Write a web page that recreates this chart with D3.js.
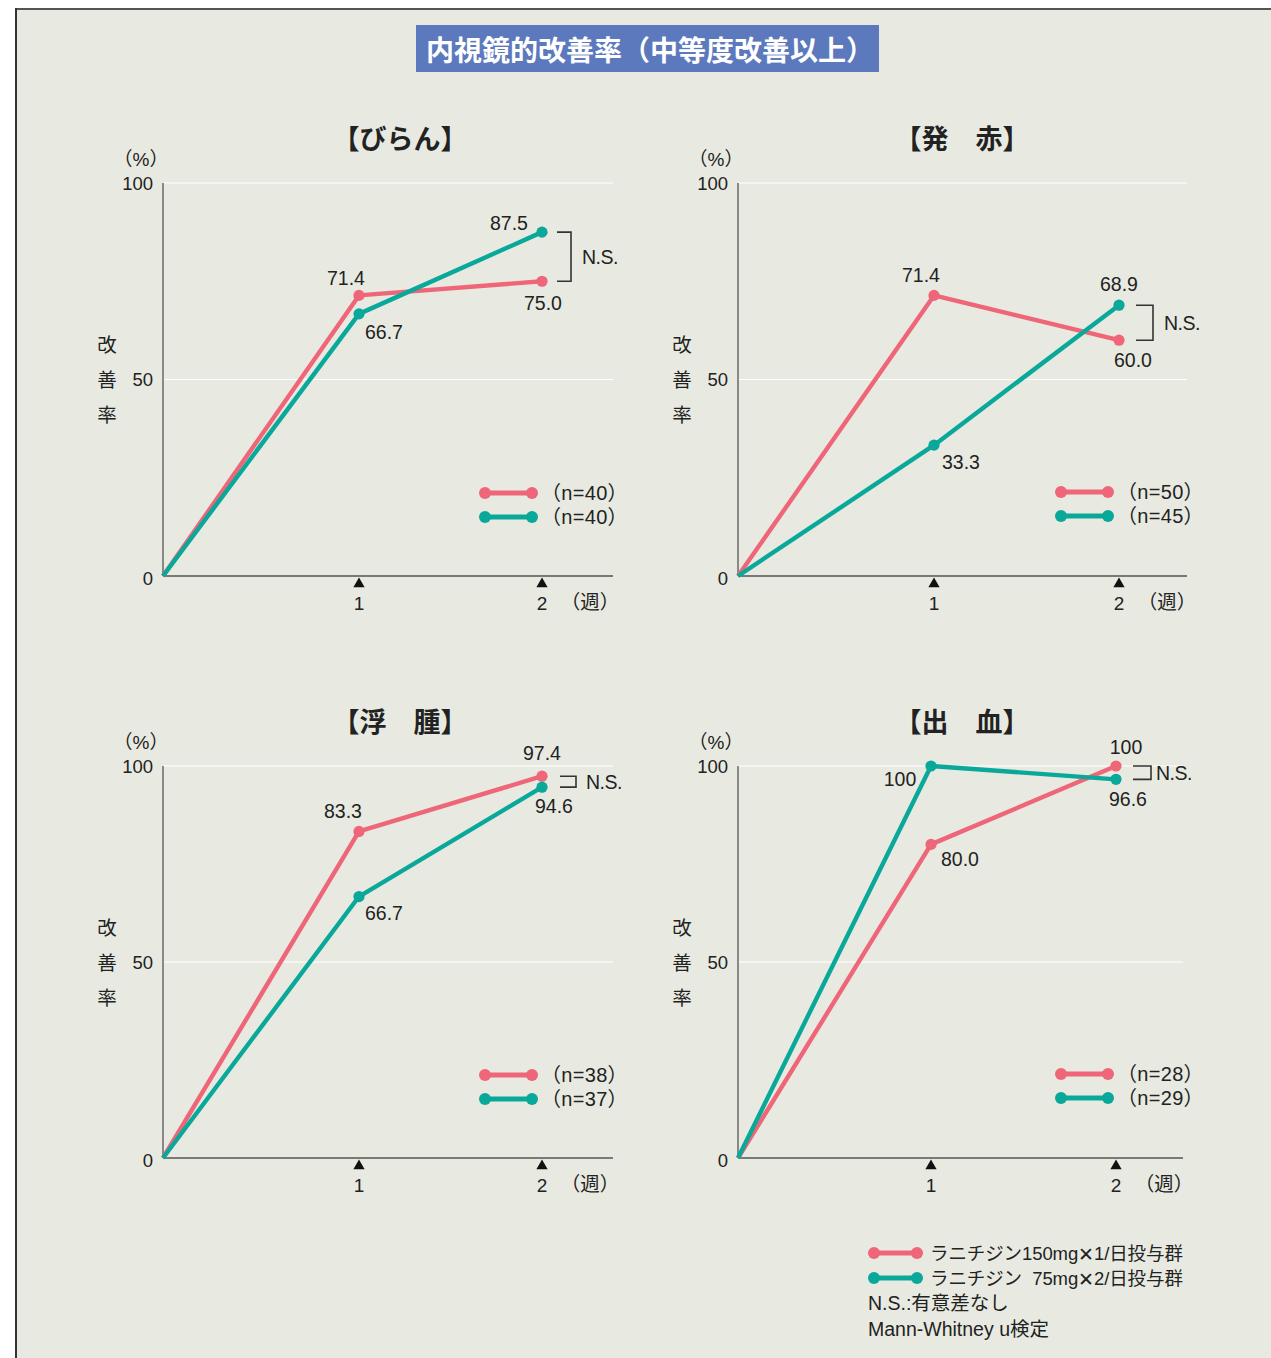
<!DOCTYPE html>
<html lang="ja">
<head>
<meta charset="utf-8">
<script src="https://cdn.jsdelivr.net/npm/d3@7"></script>
<style>
  html, body { margin: 0; padding: 0; background: #fff; }
  svg { display: block; }
  text { font-family: "Liberation Sans", "Noto Sans CJK JP", sans-serif; fill: #222; }
</style>
</head>
<body>
<svg id="chart" width="1271" height="1358"></svg>
<script>
// ---- data ----
const mainTitle = "内視鏡的改善率（中等度改善以上）";
const panelTitles = ["【びらん】", "【発\u3000赤】", "【浮\u3000腫】", "【出\u3000血】"];
const weeks = [0, 1, 2];
const weekTickLabels = ["1", "2"];
const yTicks = [0, 50, 100];
// ラニチジン150mg×1/日
const once150 = [
  [0, 71.4, 75.0],
  [0, 71.4, 60.0],
  [0, 83.3, 97.4],
  [0, 80.0, 100]
];
// ラニチジン75mg×2/日
const twice75 = [
  [0, 66.7, 87.5],
  [0, 33.3, 68.9],
  [0, 66.7, 94.6],
  [0, 100, 96.6]
];
const nOnce150 = [40, 50, 38, 28];
const nTwice75 = [40, 45, 37, 29];
// series names split around the "×" sign so it can be set in a wider glyph
const seriesNames = [["ラニチジン150mg", "1/日投与群"], ["ラニチジン\u200775mg", "2/日投与群"]];
const footNotes = ["N.S.:有意差なし", "Mann-Whitney u検定"];

// ---- layout ----
const RED = "#ee6678";
const TEAL = "#0aa89a";
const panels = [
  { x0: 163, y0: 576, h: 393, w: 450, wk: [0, 196, 379],
    labels: [[0, 1, -13, -17, "middle"], [1, 1, 25, 18, "middle"], [1, 2, -33, -9, "middle"], [0, 2, 1, 22, "middle"]],
    br: [15, 29, 40] },
  { x0: 738, y0: 576, h: 393, w: 449, wk: [0, 196, 381],
    labels: [[0, 1, -13, -20, "middle"], [1, 1, 27, 17, "middle"], [1, 2, 0, -21, "middle"], [0, 2, 14, 20, "middle"]],
    br: [17, 34, 45] },
  { x0: 163, y0: 1158, h: 392, w: 450, wk: [0, 196, 379],
    labels: [[0, 1, -16, -20, "middle"], [1, 1, 25, 16, "middle"], [0, 2, 0, -23, "middle"], [1, 2, 12, 19, "middle"]],
    br: [18, 34, 44] },
  { x0: 738, y0: 1158, h: 392, w: 445, wk: [0, 193, 378],
    labels: [[1, 1, -31, 13, "middle"], [0, 1, 29, 15, "middle"], [0, 2, 10, -19, "middle"], [1, 2, 12, 20, "middle"]],
    br: [17, 35, 40] }
];

const svg = d3.select("#chart");

// backdrop
svg.append("rect").attr("x", 15).attr("y", 8).attr("width", 1256).attr("height", 1350).attr("fill", "#e8eae1");
svg.append("line").attr("x1", 15).attr("x2", 1271).attr("y1", 9).attr("y2", 9).attr("stroke", "#555").attr("stroke-width", 2);
svg.append("line").attr("x1", 16).attr("x2", 16).attr("y1", 8).attr("y2", 1358).attr("stroke", "#333").attr("stroke-width", 2);

// title banner
svg.append("rect").attr("x", 416).attr("y", 25).attr("width", 463).attr("height", 47).attr("fill", "#5c79bd");
svg.append("text").attr("x", 650).attr("y", 49).attr("text-anchor", "middle").attr("dominant-baseline", "central")
  .attr("font-size", 28).attr("font-weight", 700).style("fill", "#fff")
  .style("font-family", "'Noto Sans CJK JP', sans-serif").text(mainTitle);

const seriesSets = [once150, twice75];
const seriesColors = [RED, TEAL];
const nSets = [nOnce150, nTwice75];

panels.forEach((p, i) => {
  const g = svg.append("g");
  const y = d3.scaleLinear().domain([0, 100]).range([p.y0, p.y0 - p.h]);
  const x = d3.scaleLinear().domain(weeks).range(p.wk.map(d => p.x0 + d));
  const xEnd = p.x0 + p.w;

  // gridlines
  g.selectAll(".grid").data(yTicks.filter(t => t > 0)).join("line")
    .attr("x1", p.x0).attr("x2", xEnd).attr("y1", d => y(d)).attr("y2", d => y(d))
    .attr("stroke", "#fff").attr("stroke-width", 1.2);

  // axes lines
  g.append("line").attr("x1", p.x0).attr("x2", p.x0).attr("y1", y(0)).attr("y2", y(100))
    .attr("stroke", "#555").attr("stroke-width", 1.3);
  g.append("line").attr("x1", p.x0).attr("x2", xEnd).attr("y1", y(0)).attr("y2", y(0))
    .attr("stroke", "#555").attr("stroke-width", 1.3);

  // y tick labels
  g.selectAll(".yt").data(yTicks).join("text")
    .attr("x", p.x0 - 10).attr("y", d => y(d) + (d === 0 ? 2 : 0))
    .attr("text-anchor", "end").attr("dominant-baseline", "central")
    .attr("font-size", 18.5).text(d => d);

  // (%) and vertical axis title
  g.append("text").attr("x", p.x0 - 22).attr("y", y(100) - 24).attr("text-anchor", "middle")
    .attr("dominant-baseline", "central").attr("font-size", 19).text("（%）");
  ["改", "善", "率"].forEach((c, k) => {
    g.append("text").attr("x", p.x0 - 56).attr("y", y(50) - 36 + k * 35)
      .attr("text-anchor", "middle").attr("dominant-baseline", "central")
      .attr("font-size", 19.5).style("font-family", "'Noto Sans CJK JP', sans-serif").text(c);
  });

  // panel title
  g.append("text").attr("x", p.x0 + (i % 2 === 0 ? 237 : 224)).attr("y", y(100) - 46)
    .attr("text-anchor", "middle").attr("dominant-baseline", "central")
    .attr("font-size", 27).attr("font-weight", 700)
    .style("font-family", "'Noto Sans CJK JP', sans-serif").text(panelTitles[i]);

  // x ticks: triangle markers + labels
  const tri = d3.symbol().type(d3.symbolTriangle).size(55);
  g.selectAll(".tri").data([1, 2]).join("path")
    .attr("d", tri).attr("transform", d => `translate(${x(d)},${y(0) + 8})`).attr("fill", "#111");
  g.selectAll(".xt").data([1, 2]).join("text")
    .attr("x", d => x(d)).attr("y", y(0) + 27).attr("text-anchor", "middle")
    .attr("dominant-baseline", "central").attr("font-size", 19).text((d, k) => weekTickLabels[k]);
  g.append("text").attr("x", x(2) + 48).attr("y", y(0) + 26).attr("text-anchor", "middle")
    .attr("dominant-baseline", "central").attr("font-size", 19.5).text("（週）");

  // series lines + points
  const line = d3.line().x((d, k) => x(weeks[k])).y(d => y(d));
  seriesSets.forEach((set, s) => {
    g.append("path").attr("d", line(set[i])).attr("fill", "none")
      .attr("stroke", seriesColors[s]).attr("stroke-width", 4.4).attr("stroke-linejoin", "round");
    g.selectAll(".pt" + s).data(set[i].slice(1)).join("circle")
      .attr("cx", (d, k) => x(weeks[k + 1])).attr("cy", d => y(d)).attr("r", 5.6)
      .attr("fill", seriesColors[s]);
  });

  // value labels
  p.labels.forEach(([s, k, dx, dy, anchor]) => {
    const v = seriesSets[s][i][k];
    g.append("text").attr("x", x(weeks[k]) + dx).attr("y", y(v) + dy)
      .attr("text-anchor", anchor).attr("dominant-baseline", "central")
      .attr("font-size", 19.5).text(v === 100 ? "100" : v.toFixed(1));
  });

  // N.S. bracket between week-2 values
  const ya = y(once150[i][2]), yb = y(twice75[i][2]);
  const bx1 = x(2) + p.br[0], bx2 = x(2) + p.br[1];
  g.append("path").attr("d", `M${bx1},${ya}H${bx2}V${yb}H${bx1}`)
    .attr("fill", "none").attr("stroke", "#333").attr("stroke-width", 1.6);
  g.append("text").attr("x", x(2) + p.br[2]).attr("y", (ya + yb) / 2)
    .attr("dominant-baseline", "central").attr("font-size", 19.5).attr("letter-spacing", -0.5).text("N.S.");

  // sample-size legend
  const lx = p.x0 + (i % 2 === 0 ? 322 : 323);
  const ly = y(0) - (i % 2 === 0 ? 83 : 84);
  seriesSets.forEach((set, s) => {
    const yy = ly + s * 24;
    g.append("line").attr("x1", lx).attr("x2", lx + 47).attr("y1", yy).attr("y2", yy)
      .attr("stroke", seriesColors[s]).attr("stroke-width", 5);
    [lx, lx + 47].forEach(cx => g.append("circle").attr("cx", cx).attr("cy", yy).attr("r", 6).attr("fill", seriesColors[s]));
    g.append("text").attr("x", lx + 56).attr("y", yy).attr("dominant-baseline", "central")
      .attr("font-size", 20).attr("letter-spacing", 0.3).text(`（n=${nSets[s][i]}）`);
  });
});

// overall legend
const legX = 874;
seriesNames.forEach(([a, b], s) => {
  const yy = 1253 + s * 25;
  svg.append("line").attr("x1", legX).attr("x2", legX + 43).attr("y1", yy).attr("y2", yy)
    .attr("stroke", seriesColors[s]).attr("stroke-width", 5);
  [legX, legX + 43].forEach(cx => svg.append("circle").attr("cx", cx).attr("cy", yy).attr("r", 6).attr("fill", seriesColors[s]));
  const t = svg.append("text").attr("x", legX + 56).attr("y", yy).attr("dominant-baseline", "central")
    .attr("font-size", 18.5).attr("letter-spacing", -0.1);
  t.append("tspan").text(a);
  t.append("tspan").style("font-family", "'Noto Sans CJK JP', sans-serif").text("✕");
  t.append("tspan").text(b);
});
footNotes.forEach((t, k) => {
  svg.append("text").attr("x", 868).attr("y", 1303 + k * 26).attr("dominant-baseline", "central")
    .attr("font-size", 19.5).text(t);
});
</script>
</body>
</html>
